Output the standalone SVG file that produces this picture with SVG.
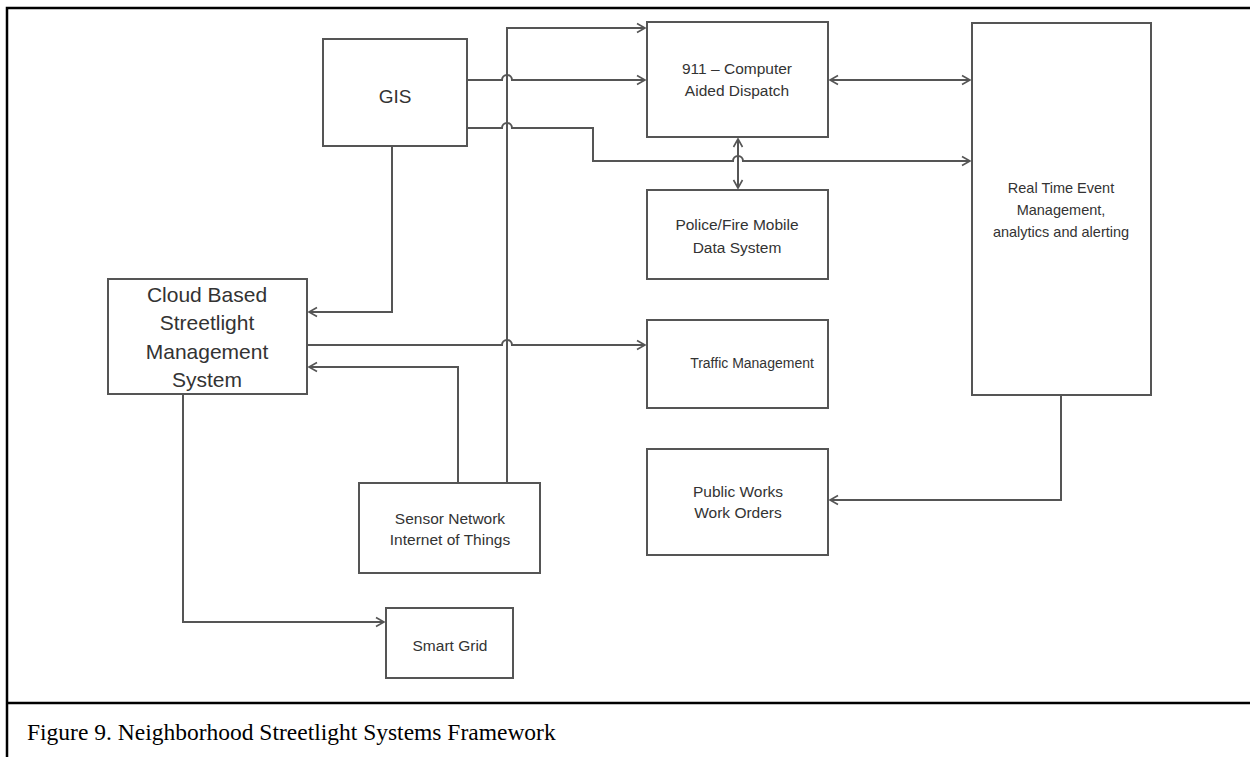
<svg xmlns="http://www.w3.org/2000/svg" width="1250" height="757" viewBox="0 0 1250 757">
  <style>
    .box { fill: #ffffff; stroke: #555555; stroke-width: 2; }
    .lbl { font-family: "Liberation Sans", Arial, sans-serif; fill: #333333; text-anchor: middle; }
    .wire { fill: none; stroke: #555555; stroke-width: 2; }
    .frame { fill: none; stroke: #000000; stroke-width: 2.5; }
    .cap { font-family: "Liberation Serif", "Times New Roman", serif; font-size: 23.5px; fill: #000000; }
  </style>
  <defs>
    <marker id="arrow" viewBox="-10 -6 12 12" refX="0" refY="0" markerWidth="12" markerHeight="12" markerUnits="userSpaceOnUse" orient="auto-start-reverse">
      <path d="M-8,-4.5 L0,0 L-8,4.5" fill="none" stroke="#555555" stroke-width="1.6"/>
    </marker>
  </defs>
  <rect width="1250" height="757" fill="#ffffff"/>

  <!-- page frame and caption rule -->
  <g id="frame">
    <path class="frame" d="M7,757 V8 H1250"/>
    <path class="frame" d="M7,703 H1250"/>
  </g>

  <!-- connectors -->
  <g id="connectors">
    <path class="wire" d="M507,483 V28 H645" marker-end="url(#arrow)"/>
    <path class="wire" d="M467,80 H502 a5,5 0 0 1 10,0 H645" marker-end="url(#arrow)"/>
    <path class="wire" d="M467,128 H502 a5,5 0 0 1 10,0 H593 V161 H733 a5,5 0 0 1 10,0 H970" marker-end="url(#arrow)"/>
    <path class="wire" d="M830,80 H970" marker-start="url(#arrow)" marker-end="url(#arrow)"/>
    <path class="wire" d="M738,139 V188" marker-start="url(#arrow)" marker-end="url(#arrow)"/>
    <path class="wire" d="M392,146 V312 H309" marker-end="url(#arrow)"/>
    <path class="wire" d="M307,345 H502 a5,5 0 0 1 10,0 H645" marker-end="url(#arrow)"/>
    <path class="wire" d="M458,483 V367 H309" marker-end="url(#arrow)"/>
    <path class="wire" d="M1061,395 V500 H830" marker-end="url(#arrow)"/>
    <path class="wire" d="M183,394 V622 H384" marker-end="url(#arrow)"/>
  </g>

  <g id="gis">
    <rect class="box" x="323" y="39" width="144" height="107"/>
    <text class="lbl" x="395" y="103" font-size="19">GIS</text>
  </g>

  <g id="dispatch">
    <rect class="box" x="647" y="22" width="181" height="115"/>
    <text class="lbl" x="737" y="74" font-size="15.5">911 – Computer</text>
    <text class="lbl" x="737" y="96" font-size="15.5">Aided Dispatch</text>
  </g>

  <g id="realtime">
    <rect class="box" x="972" y="23" width="179" height="372"/>
    <text class="lbl" x="1061" y="193" font-size="14.5">Real Time Event</text>
    <text class="lbl" x="1061" y="215" font-size="14.5">Management,</text>
    <text class="lbl" x="1061" y="237" font-size="14.5">analytics and alerting</text>
  </g>

  <g id="police">
    <rect class="box" x="647" y="190" width="181" height="89"/>
    <text class="lbl" x="737" y="230" font-size="15.5">Police/Fire Mobile</text>
    <text class="lbl" x="737" y="253" font-size="15.5">Data System</text>
  </g>

  <g id="cloud">
    <rect class="box" x="108" y="279" width="199" height="115"/>
    <text class="lbl" x="207" y="302" font-size="21">Cloud Based</text>
    <text class="lbl" x="207" y="330" font-size="21">Streetlight</text>
    <text class="lbl" x="207" y="359" font-size="21">Management</text>
    <text class="lbl" x="207" y="387" font-size="21">System</text>
  </g>

  <g id="traffic">
    <rect class="box" x="647" y="320" width="181" height="88"/>
    <text class="lbl" x="752" y="368" font-size="14">Traffic Management</text>
  </g>

  <g id="publicworks">
    <rect class="box" x="647" y="449" width="181" height="106"/>
    <text class="lbl" x="738" y="497" font-size="15.5">Public Works</text>
    <text class="lbl" x="738" y="518" font-size="15.5">Work Orders</text>
  </g>

  <g id="sensor">
    <rect class="box" x="359" y="483" width="181" height="90"/>
    <text class="lbl" x="450" y="524" font-size="15.5">Sensor Network</text>
    <text class="lbl" x="450" y="545" font-size="15.5">Internet of Things</text>
  </g>

  <g id="smartgrid">
    <rect class="box" x="386" y="608" width="127" height="70"/>
    <text class="lbl" x="450" y="651" font-size="15.5">Smart Grid</text>
  </g>

  <text class="cap" x="27" y="740">Figure 9. Neighborhood Streetlight Systems Framework</text>
</svg>
